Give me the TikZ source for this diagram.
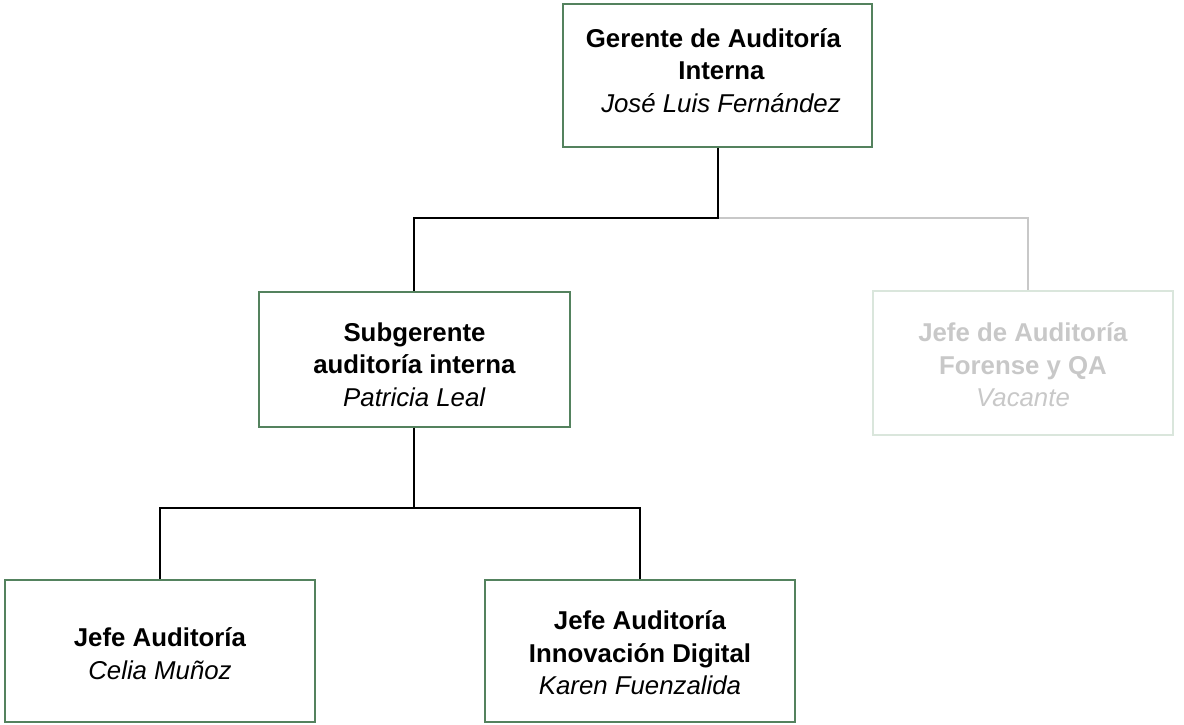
\documentclass[tikz,border=0pt]{standalone}
\usepackage{fontspec}
\setmainfont{Liberation Sans}
\definecolor{boxgreen}{RGB}{84,130,94}
\definecolor{fadeline}{RGB}{200,200,200}
\definecolor{fadebox}{RGB}{218,230,220}
\definecolor{fadetext}{RGB}{200,200,200}
\begin{document}
\begin{tikzpicture}[x=1pt,y=-1pt,
  orgbox/.style={draw=boxgreen, line width=1.4pt, rectangle, inner sep=0pt},
  fadedbox/.style={orgbox, draw=fadebox},
  boxtext/.style={align=center, font=\fontsize{25.8}{32.5}\selectfont},
  fadetxt/.style={boxtext, text=fadetext},
  orglink/.style={line width=1.8pt, black},
  fadelink/.style={line width=1.8pt, fadeline}]
\useasboundingbox (0,0) rectangle (1184,724);
\node[orgbox, minimum width=309pt, minimum height=143pt,
  label={[boxtext, yshift=5pt]center:\textbf{Gerente de Auditoría}\hspace*{8pt}\\\hspace*{8pt}\textbf{Interna}\\\hspace*{7pt}\textit{José Luis Fernández}}] (top) at (717.5,75.5) {};
\node[orgbox, minimum width=311pt, minimum height=135pt,
  label={[boxtext, yshift=-5pt]center:\textbf{Subgerente}\\\textbf{auditoría interna}\\\textit{Patricia Leal}}] (sub) at (414.5,359.5) {};
\node[fadedbox, minimum width=300pt, minimum height=144pt,
  label={[fadetxt, yshift=-2pt]center:\textbf{Jefe de Auditoría}\\\textbf{Forense y QA}\\\textit{Vacante}}] (for) at (1023,363) {};
\node[orgbox, minimum width=310pt, minimum height=142pt,
  label={[boxtext, yshift=-2.5pt]center:\textbf{Jefe Auditoría}\\\textit{Celia Muñoz}}] (ja) at (160,651) {};
\node[orgbox, minimum width=310pt, minimum height=142pt,
  label={[boxtext, yshift=-2pt]center:\textbf{Jefe Auditoría}\\\textbf{Innovación Digital}\\\textit{Karen Fuenzalida}}] (jd) at (640,651) {};
\coordinate (jn1) at (718,218);
\coordinate (jn2) at (414,508);
\draw[fadelink] (jn1) -| ([xshift=5pt]for.north);
\draw[orglink] ([xshift=0.5pt]top.south) -- (jn1) -| ([xshift=-0.5pt]sub.north);
\draw[orglink] ([xshift=-0.5pt]sub.south) -- (jn2) -| (ja.north);
\draw[orglink] (jn2) -| (jd.north);
\end{tikzpicture}
\end{document}
